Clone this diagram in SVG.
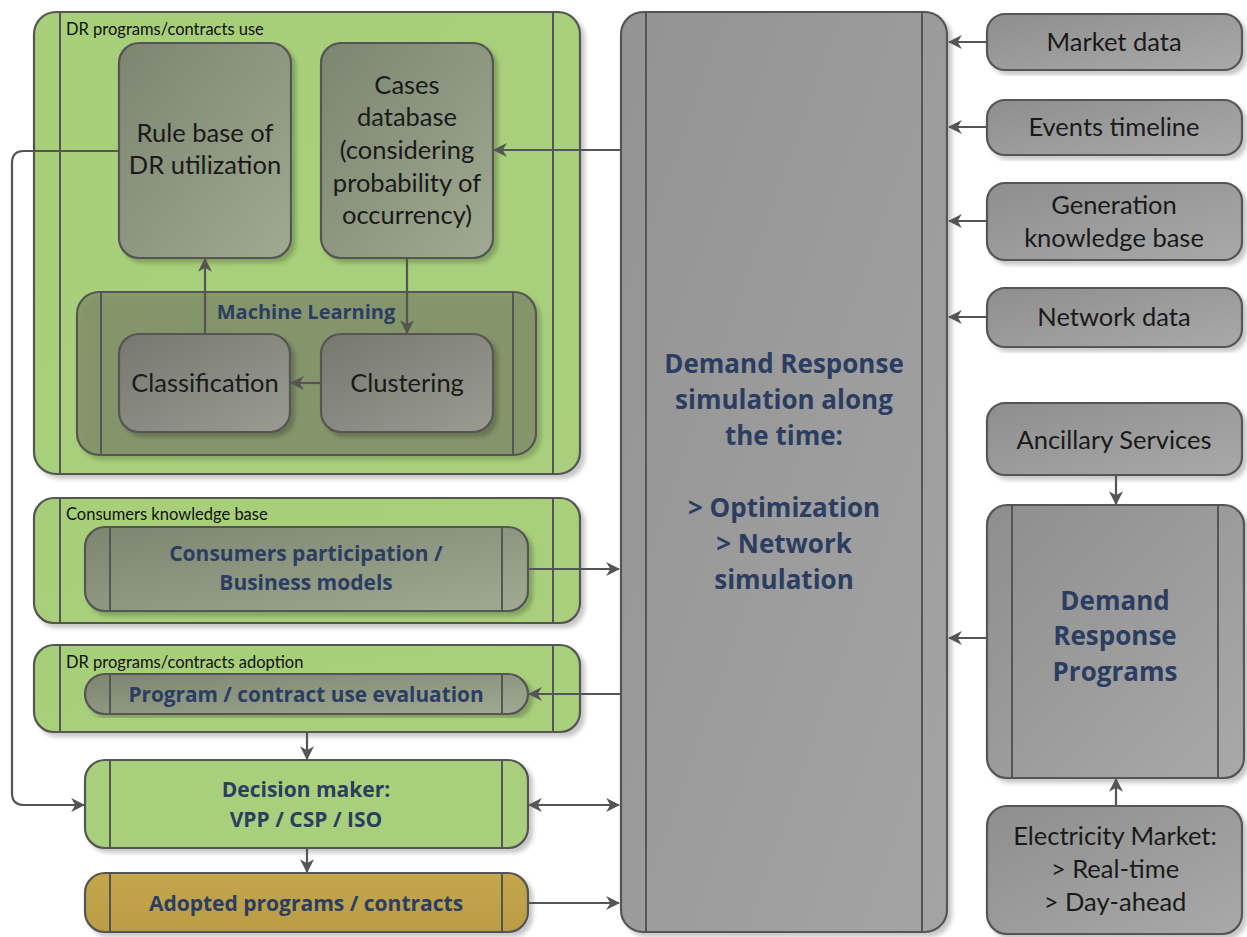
<svg xmlns="http://www.w3.org/2000/svg" width="1247" height="937" viewBox="0 0 1247 937">
<defs>
<style>
text{font-family:Lato,"Open Sans","Liberation Sans",sans-serif;text-anchor:middle;}
.lbl{font-size:25.5px;fill:#1a1a1a;}
.small{font-size:16.5px;fill:#111;text-anchor:start;}
text.bold,.bold text{font-family:"Open Sans",Lato,"Liberation Sans",sans-serif;font-weight:bold;fill:#2c3d62;}
.edge{stroke:#555;stroke-width:2.2;fill:none;}
.cont{fill:url(#gGreen);stroke:#555;stroke-width:2.2;filter:url(#sh);}
.line{stroke:#555;stroke-width:2;}
.dark{fill:url(#gDark);stroke:#555;stroke-width:2.2;filter:url(#sh);}
.gray{fill:url(#gGray);stroke:#555;stroke-width:2.2;filter:url(#sh);}
.mid{fill:url(#gMid);stroke:#555;stroke-width:2.2;filter:url(#sh);}
</style>
<linearGradient id="gGreen" x1="0" y1="0" x2="1" y2="1"><stop offset="0" stop-color="#a7cf79"/><stop offset="1" stop-color="#a9cf7c"/></linearGradient>
<linearGradient id="gDark" x1="0" y1="0" x2="1" y2="1"><stop offset="0" stop-color="#7b8570"/><stop offset="1" stop-color="#a0a991"/></linearGradient>
<linearGradient id="gMid" x1="0" y1="0" x2="1" y2="1"><stop offset="0" stop-color="#76786f"/><stop offset="1" stop-color="#9a9c92"/></linearGradient>
<linearGradient id="gGray" x1="0" y1="0" x2="1" y2="1"><stop offset="0" stop-color="#8e8e8e"/><stop offset="1" stop-color="#a9a9a9"/></linearGradient>
<linearGradient id="gCenter" x1="0" y1="0" x2="1" y2="1"><stop offset="0" stop-color="#939393"/><stop offset="1" stop-color="#a4a4a4"/></linearGradient>
<linearGradient id="gGold" x1="0" y1="0" x2="0" y2="1"><stop offset="0" stop-color="#c4a64c"/><stop offset="1" stop-color="#b99c44"/></linearGradient>
<filter id="sh" x="-10%" y="-10%" width="120%" height="120%"><feDropShadow dx="4" dy="4" stdDeviation="2" flood-color="#000" flood-opacity="0.22"/></filter>
<marker id="ah" viewBox="0 0 12 12" refX="11" refY="6" markerWidth="14" markerHeight="14" markerUnits="userSpaceOnUse" orient="auto-start-reverse"><path d="M0,0 L12,6 L0,12 L3.5,6 z" fill="#555"/></marker>
</defs>
<rect width="1247" height="937" fill="#fff"/>

<g id="c-use">
<rect class="cont" x="34" y="12" width="546" height="462" rx="22"/>
<line class="line" x1="60" y1="13" x2="60" y2="473"/>
<line class="line" x1="553" y1="13" x2="553" y2="473"/>
<text class="small" x="66" y="35">DR programs/contracts use</text>
</g>
<g id="rule-base">
<rect class="dark" x="119" y="43" width="172" height="215" rx="20"/>
<text class="lbl" x="205" y="142">Rule base of</text>
<text class="lbl" x="205" y="174">DR utilization</text>
</g>
<g id="cases-db">
<rect class="dark" x="321" y="43" width="172" height="215" rx="20"/>
<text class="lbl" x="407" y="94">Cases</text>
<text class="lbl" x="407" y="126">database</text>
<text class="lbl" x="407" y="159">(considering</text>
<text class="lbl" x="407" y="192">probability of</text>
<text class="lbl" x="407" y="224">occurrency)</text>
</g>
<g id="ml">
<rect x="77" y="292" width="459" height="163" rx="22" fill="#7d8a6a" fill-opacity="0.75" stroke="#555" stroke-width="2.2" filter="url(#sh)"/>
<line class="line" x1="101" y1="293" x2="101" y2="454"/>
<line class="line" x1="513" y1="293" x2="513" y2="454"/>
<text class="bold" x="306" y="319" font-size="20">Machine Learning</text>
</g>
<g id="classification">
<rect class="mid" x="119" y="334" width="171" height="98" rx="20"/>
<text class="lbl" x="205" y="392">Classification</text>
</g>
<g id="clustering">
<rect class="mid" x="321" y="334" width="172" height="98" rx="20"/>
<text class="lbl" x="407" y="392">Clustering</text>
</g>

<g id="c-consumers">
<rect class="cont" x="34" y="498" width="546" height="125" rx="20"/>
<line class="line" x1="60" y1="499" x2="60" y2="622"/>
<line class="line" x1="553" y1="499" x2="553" y2="622"/>
<text class="small" x="66" y="520">Consumers knowledge base</text>
</g>
<g id="consumers-participation">
<rect class="dark" x="85" y="527" width="443" height="84" rx="20"/>
<line class="line" x1="110" y1="528" x2="110" y2="610"/>
<line class="line" x1="502" y1="528" x2="502" y2="610"/>
<text class="bold" x="306" y="561" font-size="21">Consumers participation /</text>
<text class="bold" x="306" y="590" font-size="21">Business models</text>
</g>

<g id="c-adoption">
<rect class="cont" x="34" y="645" width="546" height="87" rx="20"/>
<line class="line" x1="60" y1="646" x2="60" y2="731"/>
<line class="line" x1="553" y1="646" x2="553" y2="731"/>
<text class="small" x="66" y="668">DR programs/contracts adoption</text>
</g>
<g id="program-eval">
<rect class="dark" x="85" y="674" width="443" height="40" rx="20"/>
<line class="line" x1="110" y1="675" x2="110" y2="713"/>
<line class="line" x1="502" y1="675" x2="502" y2="713"/>
<text class="bold" x="306" y="702" font-size="20.8">Program / contract use evaluation</text>
</g>

<g id="decision-maker">
<rect x="85" y="760" width="443" height="88" rx="20" fill="#a8d07b" stroke="#555" stroke-width="2.2" filter="url(#sh)"/>
<line class="line" x1="110" y1="761" x2="110" y2="847"/>
<line class="line" x1="502" y1="761" x2="502" y2="847"/>
<text class="bold" x="306" y="797" font-size="21">Decision maker:</text>
<text class="bold" x="306" y="827" font-size="21">VPP / CSP / ISO</text>
</g>
<g id="adopted">
<rect x="85" y="873" width="443" height="59" rx="20" fill="url(#gGold)" stroke="#555" stroke-width="2.2" filter="url(#sh)"/>
<line class="line" x1="110" y1="874" x2="110" y2="931"/>
<line class="line" x1="502" y1="874" x2="502" y2="931"/>
<text class="bold" x="306" y="911" font-size="21">Adopted programs / contracts</text>
</g>

<g id="dr-simulation">
<rect x="621" y="12" width="326" height="920" rx="22" fill="url(#gCenter)" stroke="#555" stroke-width="2.2" filter="url(#sh)"/>
<line class="line" x1="646" y1="13" x2="646" y2="931"/>
<line class="line" x1="922" y1="13" x2="922" y2="931"/>
<g class="bold" font-size="26">
<text x="784" y="373">Demand Response</text>
<text x="784" y="409">simulation along</text>
<text x="784" y="445">the time:</text>
<text x="784" y="517">&gt; Optimization</text>
<text x="784" y="553">&gt; Network</text>
<text x="784" y="589">simulation</text>
</g>
</g>

<g id="market-data">
<rect class="gray" x="987" y="14" width="255" height="56" rx="18"/>
<text class="lbl" x="1114" y="51">Market data</text>
</g>
<g id="events-timeline">
<rect class="gray" x="987" y="100" width="255" height="55" rx="18"/>
<text class="lbl" x="1114" y="136">Events timeline</text>
</g>
<g id="generation-kb">
<rect class="gray" x="987" y="183" width="255" height="77" rx="18"/>
<text class="lbl" x="1114" y="214">Generation</text>
<text class="lbl" x="1114" y="247">knowledge base</text>
</g>
<g id="network-data">
<rect class="gray" x="987" y="288" width="255" height="59" rx="18"/>
<text class="lbl" x="1114" y="326">Network data</text>
</g>
<g id="ancillary">
<rect class="gray" x="987" y="403" width="255" height="72" rx="18"/>
<text class="lbl" x="1114" y="449">Ancillary Services</text>
</g>
<g id="dr-programs">
<rect class="gray" x="987" y="505" width="257" height="273" rx="20"/>
<line class="line" x1="1012" y1="506" x2="1012" y2="777"/>
<line class="line" x1="1218" y1="506" x2="1218" y2="777"/>
<g class="bold" font-size="26">
<text x="1115" y="610">Demand</text>
<text x="1115" y="645">Response</text>
<text x="1115" y="681">Programs</text>
</g>
</g>
<g id="electricity-market">
<rect class="gray" x="987" y="806" width="255" height="128" rx="20"/>
<text class="lbl" x="1115" y="845">Electricity Market:</text>
<text class="lbl" x="1115" y="878">&gt; Real-time</text>
<text class="lbl" x="1115" y="911">&gt; Day-ahead</text>
</g>

<g id="connectors">
<path class="edge" d="M205,334 V259" marker-end="url(#ah)"/>
<path class="edge" d="M407,258 V333" marker-end="url(#ah)"/>
<path class="edge" d="M321,383 H291" marker-end="url(#ah)"/>
<path class="edge" d="M621,150 H494" marker-end="url(#ah)"/>
<path class="edge" d="M119,151 H24 Q12,151 12,163 V793 Q12,805 24,805 H84" marker-end="url(#ah)"/>
<path class="edge" d="M528,569 H619" marker-end="url(#ah)"/>
<path class="edge" d="M621,694 H529" marker-end="url(#ah)"/>
<path class="edge" d="M307,732 V759" marker-end="url(#ah)"/>
<path class="edge" d="M529,805 H619" marker-start="url(#ah)" marker-end="url(#ah)"/>
<path class="edge" d="M307,848 V872" marker-end="url(#ah)"/>
<path class="edge" d="M528,903 H619" marker-end="url(#ah)"/>
<path class="edge" d="M987,42 H949" marker-end="url(#ah)"/>
<path class="edge" d="M987,127 H949" marker-end="url(#ah)"/>
<path class="edge" d="M987,221 H949" marker-end="url(#ah)"/>
<path class="edge" d="M987,317 H949" marker-end="url(#ah)"/>
<path class="edge" d="M987,638 H949" marker-end="url(#ah)"/>
<path class="edge" d="M1116,475 V504" marker-end="url(#ah)"/>
<path class="edge" d="M1116,806 V779" marker-end="url(#ah)"/>
</g>
</svg>
